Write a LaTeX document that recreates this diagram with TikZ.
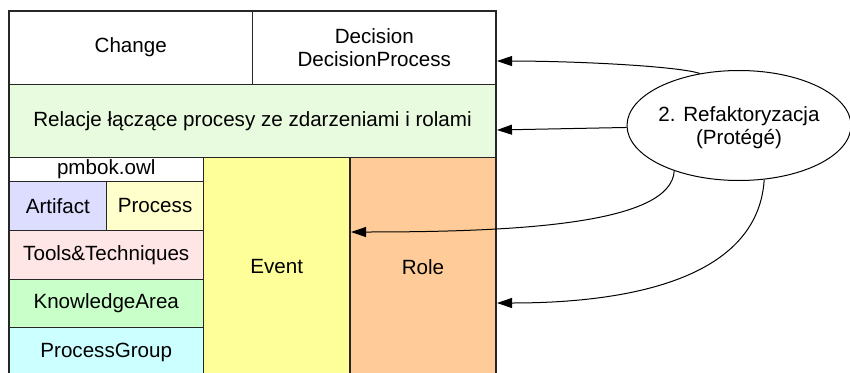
\documentclass[tikz,border=0pt]{standalone}
\usepackage{fontspec}
\setmainfont{Liberation Sans}
\usetikzlibrary{shapes.geometric,arrows.meta}
\definecolor{relgreen}{HTML}{E9FBDF}
\definecolor{artblue}{HTML}{DDDDFF}
\definecolor{procyellow}{HTML}{FFFFCC}
\definecolor{toolpink}{HTML}{FFE6E6}
\definecolor{kagreen}{HTML}{C9FFC9}
\definecolor{pgcyan}{HTML}{CCFFFF}
\definecolor{evyellow}{HTML}{FFFF99}
\definecolor{roleorange}{HTML}{FFCC99}
\begin{document}
\begin{tikzpicture}[x=1pt,y=-1pt,
  txt/.style={font=\fontsize{20.6pt}{23.6pt}\selectfont, align=center},
  cell/.style={txt, draw=black!85, line width=1.1pt, rectangle, inner sep=0pt,
    outer sep=0pt, anchor=north west},
  link/.style={draw=black, line width=1pt, -{Triangle[length=15pt,width=10pt]}}]
  \clip (0,0) rectangle (850,372);
  \fill[white] (0,0) rectangle (850,372);

  % upper layers
  \node[cell, minimum width=243.5pt, minimum height=73.3pt] (change) at (9,11) {Change};
  \node[cell, minimum width=243.5pt, minimum height=73.3pt] (decision) at (252.5,11) {Decision\\DecisionProcess};
  \node[cell, fill=relgreen, minimum width=487pt, minimum height=73pt] (rel) at (9,84.3)
    {Relacje łączące procesy ze zdarzeniami i rolami};

  % pmbok.owl column
  \node[cell, fill=white, minimum width=194.5pt, minimum height=24.5pt] (pmbok) at (9,157.3) {pmbok.owl};
  \node[cell, fill=artblue, minimum width=97.7pt, minimum height=48.4pt] (artifact) at (9,181.8) {Artifact};
  \node[cell, fill=procyellow, minimum width=96.8pt, minimum height=48.4pt] (process) at (106.7,181.8) {Process};
  \node[cell, fill=toolpink, minimum width=194.5pt, minimum height=49pt] (tools) at (9,230.2) {Tools\&Techniques};
  \node[cell, fill=kagreen, minimum width=194.5pt, minimum height=48.6pt] (ka) at (9,279.2) {KnowledgeArea};
  \node[cell, fill=pgcyan, minimum width=194.5pt, minimum height=48.5pt] (pg) at (9,327.8) {ProcessGroup};

  % event and role columns
  \node[cell, fill=evyellow, minimum width=146.5pt, minimum height=219pt] (event) at (203.5,157.3) {Event};
  \node[cell, fill=roleorange, minimum width=146pt, minimum height=219pt] (role) at (350,157.3) {Role};

  % refactoring step
  \node[draw=black, line width=1pt, ellipse, inner sep=0pt, minimum width=224pt,
    minimum height=110pt] (ref) at (739,125.5) {};
  \node[txt] (reflabel) at ([yshift=-2pt]ref.center) {2. Refaktoryzacja\\(Protégé)};

  % arrow end points on the layers
  \coordinate (t1) at ([xshift=1pt,yshift=-13.4pt]decision.east);
  \coordinate (t2) at ([xshift=1pt,yshift=-9.2pt]rel.east);
  \coordinate (t3) at ([xshift=1pt,yshift=34.8pt]role.west);
  \coordinate (t4) at ([xshift=1pt,yshift=-36.2pt]role.east);

  \draw[link] (ref.127) .. controls +(-20,-7) and +(83,0) .. (t1);
  \draw[link] (ref.181) -- (t2);
  \draw[link] (ref.215) .. controls +(-3,53) and +(169,0) .. (t3);
  \draw[link] (ref.295.5) .. controls +(-7,110) and +(103,0) .. (t4);
\end{tikzpicture}
\end{document}
